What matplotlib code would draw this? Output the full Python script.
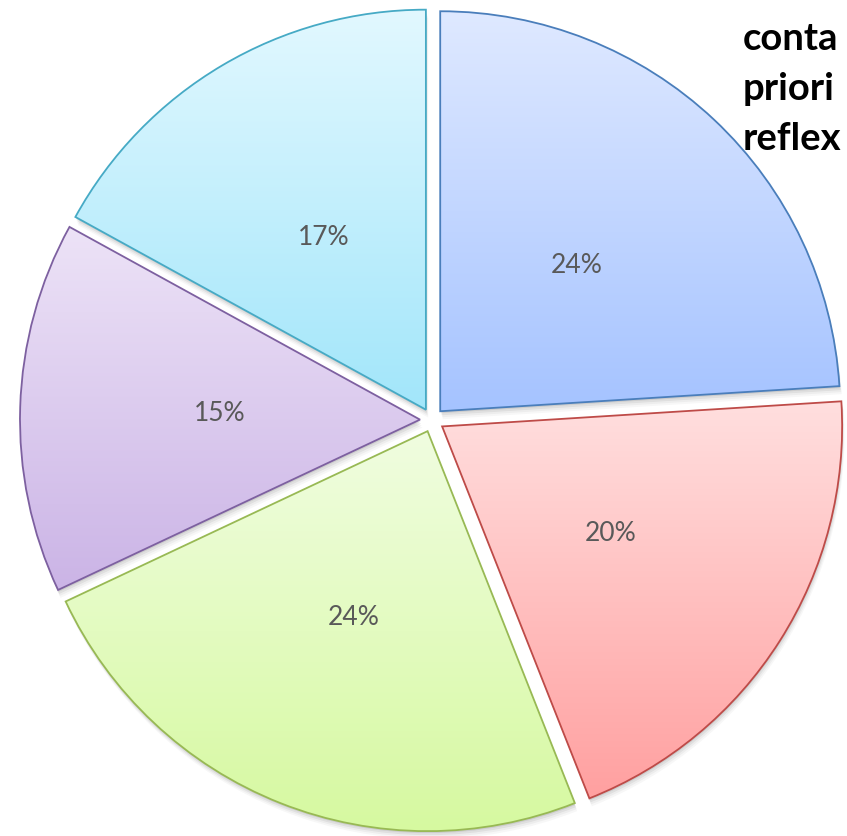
import numpy as np
import matplotlib
matplotlib.use("Agg")
import matplotlib.pyplot as plt
import matplotlib.patches as mpatches
from matplotlib.colors import LinearSegmentedColormap

# valores de la torta (sentido horario desde las 12)
valores = [24, 20, 24, 15, 17]
tonos_arriba = ["#dfe9ff", "#ffdfdf", "#f0fde0", "#ede3f7", "#e2f8ff"]
tonos_abajo = ["#a5c3ff", "#ffa0a0", "#d6f9a0", "#cbb4e6", "#a2e6fa"]
bordes = ["#4a7ebb", "#be4b48", "#98b954", "#7d60a0", "#46aac5"]
lineas_titulo = ["conta", "priori", "reflex"]

W, H = 847, 836
fig = plt.figure(figsize=(W / 100, H / 100), dpi=100)
ax = fig.add_axes([0, 0, 1, 1])

centro = (432, H - 420)
radio = 400

wedges, textos, pcts = ax.pie(
    valores, explode=[12] * len(valores), startangle=90, counterclock=False,
    center=centro, radius=radio, autopct="%1.0f%%", pctdistance=0.5,
    wedgeprops=dict(facecolor="none", linewidth=1.3), frame=True,
    textprops=dict(fontsize=19, color="#595959", family=["Lato", "DejaVu Sans"]))

grad = np.linspace(0, 1, 256).reshape(-1, 1)
for w, top, bot, ec in zip(wedges, tonos_arriba, tonos_abajo, bordes):
    w.set_edgecolor(ec)
    w.set_zorder(4)
    cx, cy = w.center
    # sombra difusa hacia abajo
    for k, a in [(8, 0.03), (6, 0.04), (4, 0.06), (2, 0.08)]:
        sombra = mpatches.Wedge((cx + k * 0.3, cy - k), w.r, w.theta1, w.theta2,
                                facecolor="black", edgecolor="none", alpha=a, zorder=1)
        ax.add_patch(sombra)
    fondo = mpatches.Wedge((cx, cy), w.r, w.theta1, w.theta2,
                           facecolor="white", edgecolor="none", zorder=2)
    ax.add_patch(fondo)
    ext = w.get_path().get_extents()
    cmap = LinearSegmentedColormap.from_list("g", [bot, top])
    img = ax.imshow(grad, cmap=cmap, extent=[ext.x0, ext.x1, ext.y0, ext.y1],
                    origin="lower", aspect="auto", zorder=3, interpolation="bilinear")
    img.set_clip_path(fondo)

for t in pcts:
    t.set_zorder(6)

ax.set_xlim(0, W)
ax.set_ylim(0, H)
ax.axis("off")

for i, linea in enumerate(lineas_titulo):
    ax.text(743, H - 50 - 50 * i, linea, fontsize=27.5, fontweight="bold",
            family=["Lato", "DejaVu Sans"], color="black", ha="left", va="baseline", zorder=7)

fig.savefig("out.png", dpi=100)
